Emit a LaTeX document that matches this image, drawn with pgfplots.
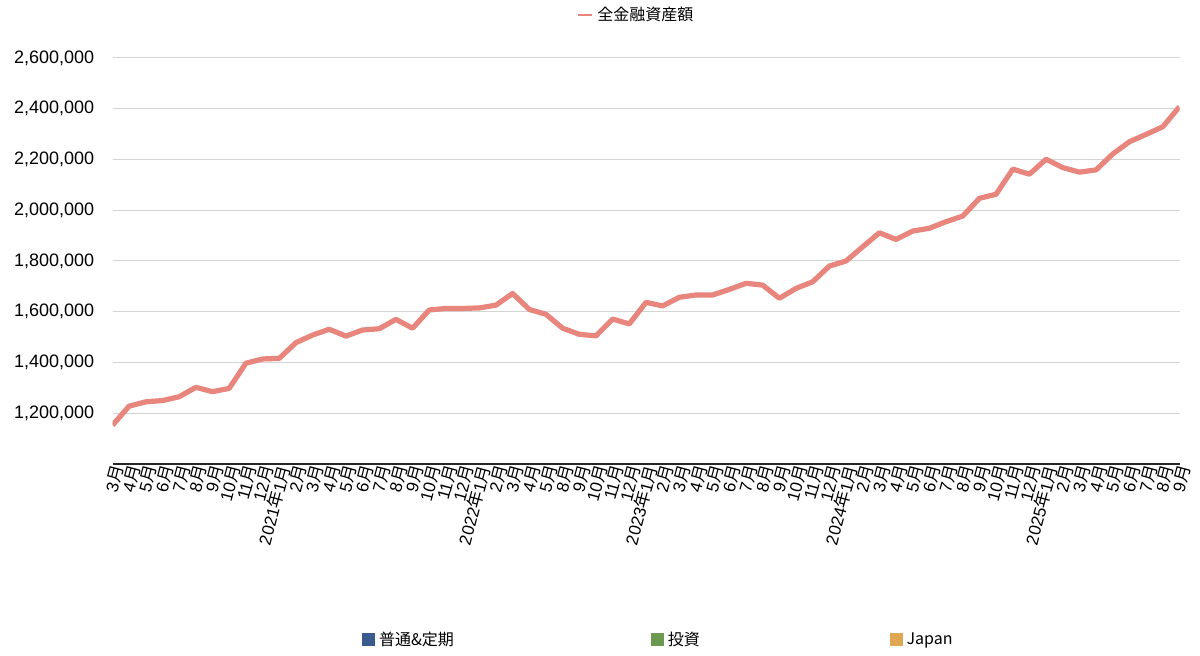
\documentclass[border=0pt]{standalone}
\usepackage{fontspec}
\setmainfont{Liberation Sans}
\newfontfamily\cjk{Noto Sans CJK JP}
\usepackage{pgfplots}
\pgfplotsset{compat=1.18}

\definecolor{linecol}{HTML}{E8857D}
\definecolor{gridcol}{HTML}{D4D4D4}
\definecolor{c1}{HTML}{3B5A8F}
\definecolor{c2}{HTML}{6A994F}
\definecolor{c3}{HTML}{E0A752}

\newcommand\M[1]{#1{\cjk 月}}
\newcommand\Y[1]{#1{\cjk 年}1{\cjk 月}}

% index, total (2020-03 .. 2025-09, 2022-06/07 missing)
\pgfplotstableread{
x y
0 1153000
1 1228000
2 1245000
3 1250000
4 1265000
5 1302000
6 1285000
7 1298000
8 1397000
9 1414000
10 1416000
11 1478000
12 1508000
13 1531000
14 1504000
15 1528000
16 1533000
17 1570000
18 1535000
19 1607000
20 1613000
21 1613000
22 1615000
23 1626000
24 1672000
25 1609000
26 1590000
27 1535000
28 1511000
29 1505000
30 1571000
31 1552000
32 1637000
33 1623000
34 1657000
35 1666000
36 1666000
37 1688000
38 1712000
39 1705000
40 1653000
41 1692000
42 1718000
43 1780000
44 1800000
45 1856000
46 1911000
47 1885000
48 1918000
49 1929000
50 1955000
51 1977000
52 2047000
53 2063000
54 2162000
55 2142000
56 2201000
57 2168000
58 2150000
59 2159000
60 2222000
61 2270000
62 2299000
63 2329000
64 2408000
}\total

\begin{document}
\begin{tikzpicture}
\begin{axis}[
  at={(56.25pt,96pt)}, anchor=south west,
  scale only axis, width=533.5pt, height=203pt,
  xmin=0, xmax=64, ymin=1000000, ymax=2600000,
  axis x line=bottom, axis y line=left,
  axis line style={-},
  x axis line style={draw=black!85, line width=1pt},
  y axis line style={draw=none},
  major tick length=0pt,
  ytick={1200000,1400000,1600000,1800000,2000000,2200000,2400000,2600000},
  yticklabels={{1,200,000},{1,400,000},{1,600,000},{1,800,000},{2,000,000},{2,200,000},{2,400,000},{2,600,000}},
  ymajorgrids, grid style={gridcol, line width=0.5pt},
  scaled y ticks=false,
  yticklabel style={font=\fontsize{9}{10}\selectfont, inner sep=0pt, xshift=-9pt},
  xtick={0,...,64},
  xticklabels={\M{3},\M{4},\M{5},\M{6},\M{7},\M{8},\M{9},\M{10},\M{11},\M{12},
    \Y{2021},\M{2},\M{3},\M{4},\M{5},\M{6},\M{7},\M{8},\M{9},\M{10},\M{11},\M{12},
    \Y{2022},\M{2},\M{3},\M{4},\M{5},\M{8},\M{9},\M{10},\M{11},\M{12},
    \Y{2023},\M{2},\M{3},\M{4},\M{5},\M{6},\M{7},\M{8},\M{9},\M{10},\M{11},\M{12},
    \Y{2024},\M{2},\M{3},\M{4},\M{5},\M{6},\M{7},\M{8},\M{9},\M{10},\M{11},\M{12},
    \Y{2025},\M{2},\M{3},\M{4},\M{5},\M{6},\M{7},\M{8},\M{9}},
  xticklabel style={font=\fontsize{8.5}{10}\selectfont, rotate=75, anchor=east, inner sep=0pt, yshift=-3pt},
  legend style={at={(0.492,1.106)}, anchor=center, draw=none, fill=none,
    font=\fontsize{8}{9}\selectfont\cjk, inner sep=0pt},
  legend image code/.code={\draw[#1, line width=1pt] (0pt,0pt) -- (7pt,0pt);},
]
\addplot[linecol, line width=2.6pt, line join=round] table[x=x, y=y] {\total};
\addlegendentry{全金融資産額}
\end{axis}
\begin{axis}[
  at={(56.25pt,96pt)}, anchor=south west,
  scale only axis, width=533.5pt, height=203pt,
  xmin=0, xmax=1, ymin=0, ymax=1, hide axis,
  legend columns=3,
  legend style={at={(0.2337,-0.433)}, anchor=west, draw=none, fill=none,
    font=\fontsize{8}{9}\selectfont\cjk, inner sep=0pt},
]
\addlegendimage{legend image code/.code={\fill[c1] (0pt,-3pt) rectangle (6pt,3pt);}}
\addlegendentry{\makebox[134pt][l]{普通\&定期}}
\addlegendimage{legend image code/.code={\fill[c2] (0pt,-3pt) rectangle (6pt,3pt);}}
\addlegendentry{\makebox[109pt][l]{投資}}
\addlegendimage{legend image code/.code={\fill[c3] (0pt,-3pt) rectangle (6pt,3pt);}}
\addlegendentry{Japan}
\end{axis}
\pgfresetboundingbox
\path[use as bounding box] (0,0) rectangle (600pt,328pt);
\end{tikzpicture}
\end{document}
